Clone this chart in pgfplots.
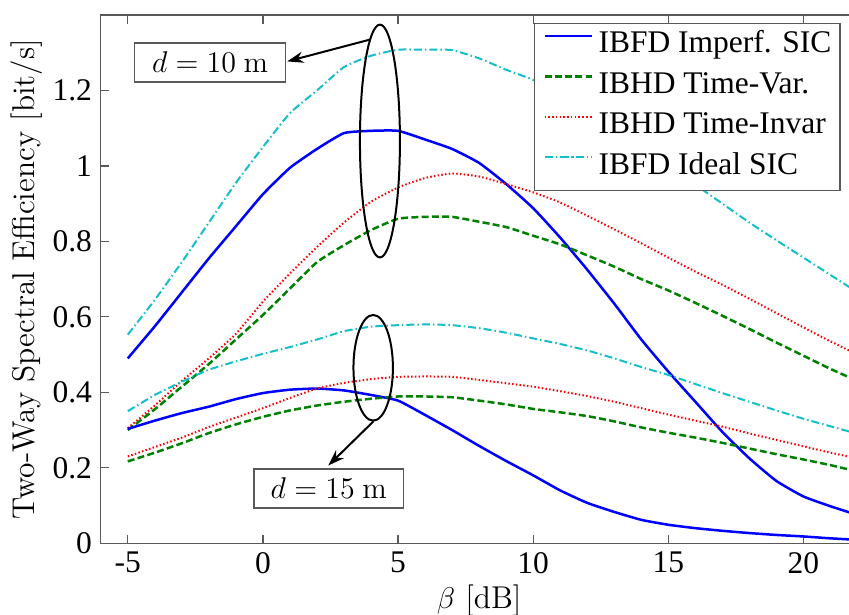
\documentclass[border=0pt]{standalone}
\usepackage[no-math]{fontspec}
\setmainfont{Liberation Serif}
\newfontfamily\lmfont{Latin Modern Roman}
\usepackage{pgfplots}
\usepackage{pgfplotstable}
\pgfplotsset{compat=1.18}
\usetikzlibrary{arrows.meta}

\definecolor{mblue}{rgb}{0,0,1}
\definecolor{mgreen}{rgb}{0,0.5,0}
\definecolor{mred}{rgb}{1,0,0}
\definecolor{mcyan}{rgb}{0.08,0.75,0.78}
\definecolor{axgray}{rgb}{0.35,0.35,0.35}

% beta [dB] against spectral efficiency, d = 10 m and d = 15 m
\pgfplotstableread{
x   b10   g10   r10   c10   b15   g15   r15   c15
-5  0.490 0.300 0.305 0.553 0.303 0.217 0.230 0.350
-4  0.575 0.355 0.365 0.645 0.325 0.240 0.255 0.393
-3  0.665 0.415 0.430 0.745 0.345 0.265 0.280 0.428
-2  0.755 0.475 0.490 0.850 0.362 0.292 0.308 0.460
-1  0.840 0.540 0.555 0.955 0.382 0.315 0.333 0.482
0   0.925 0.605 0.640 1.050 0.398 0.335 0.358 0.502
1   0.995 0.675 0.715 1.140 0.407 0.352 0.385 0.520
2   1.045 0.745 0.785 1.200 0.410 0.365 0.410 0.540
3   1.087 0.790 0.850 1.262 0.405 0.375 0.425 0.562
4   1.093 0.830 0.905 1.292 0.393 0.383 0.435 0.574
5   1.093 0.860 0.943 1.308 0.378 0.389 0.441 0.578
6   1.070 0.865 0.968 1.308 0.340 0.389 0.442 0.580
7   1.045 0.865 0.980 1.307 0.300 0.387 0.441 0.578
8   1.008 0.852 0.972 1.285 0.258 0.378 0.433 0.570
9   0.952 0.838 0.952 1.255 0.218 0.368 0.424 0.558
10  0.888 0.815 0.930 1.228 0.180 0.356 0.415 0.543
11  0.810 0.792 0.903 1.190 0.140 0.347 0.403 0.528
12  0.725 0.763 0.868 1.145 0.107 0.337 0.390 0.511
13  0.635 0.733 0.832 1.095 0.083 0.323 0.375 0.490
14  0.540 0.700 0.795 1.045 0.062 0.307 0.358 0.467
15  0.455 0.670 0.757 0.995 0.049 0.293 0.341 0.446
16  0.375 0.637 0.720 0.950 0.040 0.280 0.325 0.422
17  0.295 0.603 0.685 0.900 0.033 0.266 0.309 0.398
18  0.225 0.568 0.648 0.850 0.027 0.251 0.291 0.375
19  0.165 0.532 0.610 0.803 0.022 0.236 0.274 0.352
20  0.124 0.497 0.572 0.757 0.018 0.222 0.257 0.330
21  0.098 0.462 0.535 0.711 0.013 0.207 0.240 0.310
22  0.075 0.430 0.500 0.665 0.009 0.190 0.225 0.290
}\sedata

\begin{document}
\begin{tikzpicture}
% the original figure is cut off just before the right border
\useasboundingbox (-40.3pt,-28.7pt) rectangle (299.3pt,217.3pt);
\clip (-40.3pt,-28.7pt) rectangle (299.3pt,217.3pt);
\begin{axis}[
    at={(0pt,0pt)}, anchor=south west,
    scale only axis,
    width=302.7pt, height=211.3pt,
    xmin=-6, xmax=22,
    ymin=0, ymax=1.4,
    xtick={-5,0,5,10,15,20},
    ytick={0,0.2,0.4,0.6,0.8,1,1.2},
    tick align=inside,
    major tick length=3.5pt,
    tick style={axgray, line width=0.5pt},
    axis line style={axgray, line width=0.6pt},
    /pgf/number format/assume math mode=true,
    tick label style={font=\fontsize{12.6}{14}\selectfont},
    xlabel={$\beta$ [dB]},
    ylabel={Two-Way Spectral Efficiency [bit/s]},
    label style={font=\lmfont\fontsize{12.6}{14}\selectfont},
    xlabel style={at={(axis description cs:0.5,0)}, anchor=base, yshift=-26pt},
    ylabel style={at={(axis description cs:-0.0975,0.5)}, anchor=center},
    every axis plot/.append style={smooth, tension=0.3},
    legend cell align=left,
    legend style={
        at={(rel axis cs:0.978,0.985)}, anchor=north east,
        draw=axgray, line width=0.6pt, fill=white,
        font=\fontsize{12.6}{14}\selectfont,
        inner xsep=3.5pt, inner ysep=1pt,
        row sep=0pt, column sep=2.3pt,
        nodes={inner sep=0pt, text height=10.6pt, text depth=5.6pt},
    },
    legend image code/.code={
        \draw[#1] plot coordinates {(0cm,0.15cm) (0.66cm,0.15cm)};
    },
]
\addplot[mblue, line width=1pt] table[x=x, y=b10] {\sedata};
\addlegendentry{IBFD Imperf. SIC}
\addplot[mgreen, line width=1pt, dash pattern=on 2.8pt off 1.3pt] table[x=x, y=g10] {\sedata};
\addlegendentry{IBHD Time-Var.}
\addplot[mred, line width=0.8pt, dash pattern=on 0.6pt off 0.9pt] table[x=x, y=r10] {\sedata};
\addlegendentry{IBHD Time-Invar}
\addplot[mcyan, line width=0.8pt, dash pattern=on 3.2pt off 1.2pt on 0.6pt off 1.2pt] table[x=x, y=c10] {\sedata};
\addlegendentry{IBFD Ideal SIC}

\addplot[mblue, line width=1pt, forget plot] table[x=x, y=b15] {\sedata};
\addplot[mgreen, line width=1pt, dash pattern=on 2.8pt off 1.3pt, forget plot] table[x=x, y=g15] {\sedata};
\addplot[mred, line width=0.8pt, dash pattern=on 0.6pt off 0.9pt, forget plot] table[x=x, y=r15] {\sedata};
\addplot[mcyan, line width=0.8pt, dash pattern=on 3.2pt off 1.2pt on 0.6pt off 1.2pt, forget plot] table[x=x, y=c15] {\sedata};

% annotations
\draw[line width=0.8pt] (axis cs:4.33,1.066) ellipse [x radius=0.74, y radius=0.3085];
\draw[line width=0.8pt] (axis cs:4.08,0.465) ellipse [x radius=0.73, y radius=0.14];
\draw[line width=0.8pt, -{Stealth[length=6.5pt, width=4.5pt]}] (axis cs:3.97,1.335) -- (axis cs:0.9,1.277);
\draw[line width=0.8pt, -{Stealth[length=6.5pt, width=4.5pt]}] (axis cs:4.09,0.323) -- (axis cs:2.42,0.206);
\node[draw=axgray, line width=0.6pt, fill=white, minimum width=60.5pt, minimum height=15.7pt,
      inner sep=0pt, font=\fontsize{12}{14}\selectfont] at (axis cs:-1.955,1.274) {$d = 10$~{\lmfont m}};
\node[draw=axgray, line width=0.6pt, fill=white, minimum width=59.7pt, minimum height=15.6pt,
      inner sep=0pt, font=\fontsize{12}{14}\selectfont] at (axis cs:2.436,0.145) {$d = 15$~{\lmfont m}};
\end{axis}
\end{tikzpicture}
\end{document}
